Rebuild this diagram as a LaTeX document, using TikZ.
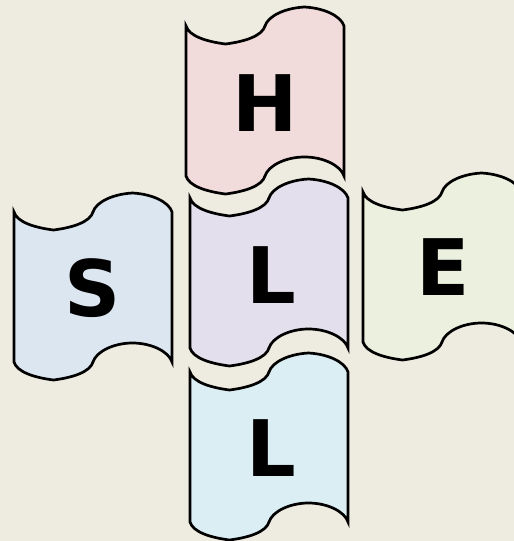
\documentclass[tikz,border=0pt]{standalone}
\usepackage{fontspec}
\setmainfont{DejaVu Sans}
\definecolor{bgc}{HTML}{EEECE1}
\definecolor{pinkf}{HTML}{F2DCDB}
\definecolor{lavf}{HTML}{E4DFEC}
\definecolor{bluef}{HTML}{DCE6F1}
\definecolor{greenf}{HTML}{EBF1DE}
\definecolor{aquaf}{HTML}{DAEEF3}
\newcommand\tapeat[3]{%
  \draw[tapeline, fill=#3, shift={(#1,#2)}]
    (0,0) .. controls (3,10) and (20,15.5) .. (39.5,18)
          .. controls (59,15.5) and (76,10) .. (79,0)
          .. controls (82,-10) and (99,-18) .. (118.5,-19)
          .. controls (138,-18) and (155,-10) .. (158,0)
    -- (158,150)
          .. controls (155,140) and (138,131) .. (118.5,131)
          .. controls (99,131) and (82,140) .. (79,150)
          .. controls (76,160) and (59,165.5) .. (39.5,168)
          .. controls (20,165.5) and (3,160) .. (0,150)
    -- cycle;}
\begin{document}
\begin{tikzpicture}[x=1pt,y=-1pt,
  tapeline/.style={draw=black, line width=2.7pt},
  letter/.style={font=\fontsize{78}{78}\selectfont\bfseries, inner sep=0pt}]
\useasboundingbox (0,0) rectangle (514,541);
\fill[bgc] (0,0) rectangle (514,541);
\clip (0,0) rectangle (514,541);
\tapeat{186}{26}{pinkf}
\tapeat{14}{212}{bluef}
\tapeat{363}{192}{greenf}
\tapeat{190}{372}{aquaf}
\tapeat{190}{198}{lavf}
\node[letter] (h) at (265,103) {H};
\node[letter] (l1) at (271,275) {L};
\node[letter] (s) at (93,288) {S};
\node[letter] (e) at (443,267) {E};
\node[letter] (l2) at (271,448) {L};
\end{tikzpicture}
\end{document}
